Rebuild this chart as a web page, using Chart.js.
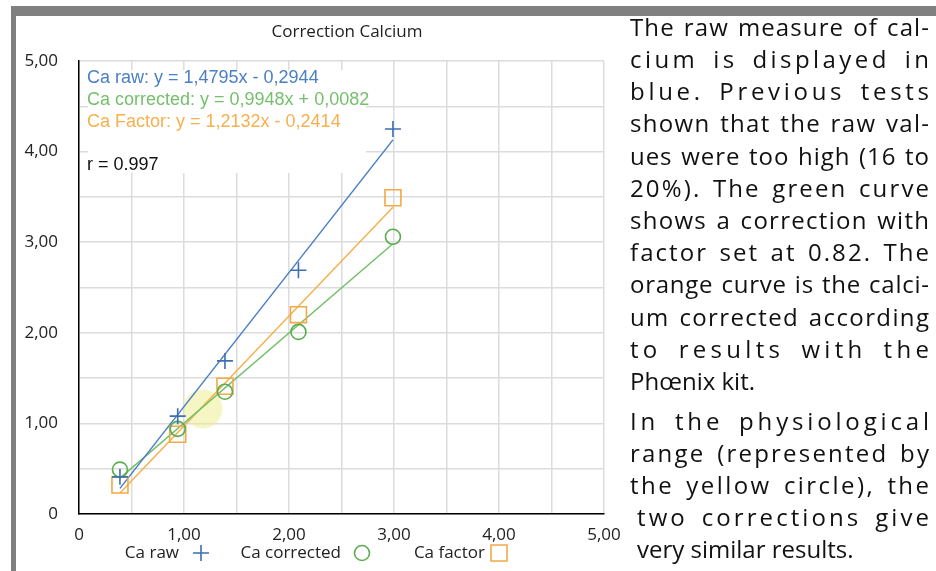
<!DOCTYPE html>
<html>
<head>
<meta charset="utf-8">
<script src="https://cdn.jsdelivr.net/npm/chart.js@4.4.1/dist/chart.umd.min.js"></script>
<style>
  html, body { margin: 0; padding: 0; background: #fff; width: 936px; height: 571px; overflow: hidden; }
  #wrap { position: relative; width: 936px; height: 571px; }
  #chartBox { position: absolute; left: 0; top: 0; width: 640px; height: 571px; }
  .bar { position: absolute; background: #808080; }
  .ln { position: absolute; font-family: "Open Sans", "Noto Sans", sans-serif; font-size: 24px; line-height: 32px; color: #111; white-space: pre; }
</style>
</head>
<body>
<div id="wrap">
  <div id="chartBox"><canvas id="c" width="640" height="571"></canvas></div>
  <div class="bar" style="left:11px;top:6px;width:925px;height:10px"></div>
  <div class="bar" style="left:11px;top:6px;width:5px;height:565px"></div>
  <div id="notes"></div>
</div>
<script>
// Measured calcium values (x = reference value)
const X_VALUES     = [0.39, 0.94, 1.39, 2.09, 2.99];
const CA_RAW       = [0.41, 1.08, 1.69, 2.69, 4.25];
const CA_CORRECTED = [0.49, 0.94, 1.35, 2.01, 3.06];
const CA_FACTOR    = [0.32, 0.88, 1.41, 2.20, 3.49];

// Linear regression of each series (as printed in the chart)
const SERIES_NAMES = ['Ca raw', 'Ca corrected', 'Ca factor'];
const SLOPES       = [1.4795, 0.9948, 1.2132];
const INTERCEPTS   = [-0.2944, 0.0082, -0.2414];
const EQUATION_LABELS = [
  'Ca raw: y = 1,4795x - 0,2944',
  'Ca corrected: y = 0,9948x + 0,0082',
  'Ca Factor: y = 1,2132x - 0,2414'
];
const R_LABEL = 'r = 0.997';

// Physiological range marker (centre)
const PHYSIO_CENTER = [1.18, 1.16];

const TICK_VALUES = [0, 1, 2, 3, 4, 5];
const TICK_LABELS = ['0', '1,00', '2,00', '3,00', '4,00', '5,00'];
const CHART_TITLE = 'Correction Calcium';

const NOTE_PARAGRAPHS = [
  ['The raw measure of cal-', 'cium is displayed in', 'blue. Previous tests',
   'shown that the raw val-', 'ues were too high (16 to', '20%). The green curve',
   'shows a correction with', 'factor set at 0.82. The', 'orange curve is the calci-',
   'um corrected according', 'to results with the', 'Phœnix kit.'],
  ['In the physiological', 'range (represented by', 'the yellow circle), the',
   'two corrections give', 'very similar results.']
];

const LINE_COLORS   = ['#4a7fc4', '#74c06b', '#f7b04e'];
const MARKER_COLORS = ['#3e6fae', '#5aad50', '#f3a945'];
const TICK_FONT = { family: '"Open Sans", "Noto Sans", sans-serif', size: 17 };

const toPoints = ys => X_VALUES.map((x, i) => ({ x, y: ys[i] }));
function trendPoints(k) {
  const x0 = Math.min(...X_VALUES), x1 = Math.max(...X_VALUES);
  return [x0, x1].map(x => ({ x, y: SLOPES[k] * x + INTERCEPTS[k] }));
}
function tickText(v) {
  const i = TICK_VALUES.indexOf(v);
  return i >= 0 ? TICK_LABELS[i] : '';
}

const markerSet = (k, style, radius, ys) => ({
  type: 'scatter', label: SERIES_NAMES[k], data: toPoints(ys),
  pointStyle: style, pointRadius: radius, pointBorderWidth: 1.6,
  borderColor: MARKER_COLORS[k], backgroundColor: 'rgba(0,0,0,0)', showLine: false
});
const trendSet = k => ({
  type: 'line', label: SERIES_NAMES[k] + ' trend', data: trendPoints(k),
  borderColor: LINE_COLORS[k], borderWidth: 1.5, pointRadius: 0, fill: false, tension: 0
});

// Overlay: equation box, title and legend
const overlay = {
  id: 'overlay',
  beforeDatasetsDraw(chart) {
    const c = chart.ctx, a = chart.chartArea;
    c.save();
    c.fillStyle = '#fff';
    c.fillRect(a.left + 9, a.top + 9, 278, 103);
    c.font = '18px "Liberation Sans", Arial, sans-serif';
    c.textBaseline = 'middle';
    c.textAlign = 'left';
    EQUATION_LABELS.forEach((t, i) => {
      c.fillStyle = LINE_COLORS[i];
      c.fillText(t, a.left + 8, a.top + 17 + i * 22);
    });
    c.fillStyle = '#111';
    c.fillText(R_LABEL, a.left + 8, a.top + 104);
    c.restore();
  },
  afterDraw(chart) {
    const c = chart.ctx;
    c.save();
    c.font = '17px "Open Sans", "Noto Sans", sans-serif';
    c.fillStyle = '#222';
    c.textAlign = 'center';
    c.textBaseline = 'middle';
    c.fillText(CHART_TITLE, 347, 32);

    // legend: label followed by its marker
    const textRight = [179, 341, 485];
    const markX = [201, 362, 499];
    const y = 553;
    c.textAlign = 'right';
    SERIES_NAMES.forEach((name, i) => {
      c.fillStyle = '#222';
      c.fillText(name, textRight[i], y);
      c.strokeStyle = MARKER_COLORS[i];
      c.lineWidth = 1.6;
      c.beginPath();
      if (i === 0) {
        c.moveTo(markX[i] - 8, y); c.lineTo(markX[i] + 8, y);
        c.moveTo(markX[i], y - 8); c.lineTo(markX[i], y + 8);
      } else if (i === 1) {
        c.arc(markX[i], y, 7.5, 0, Math.PI * 2);
      } else {
        c.rect(markX[i] - 8, y - 8, 16, 16);
      }
      c.stroke();
    });
    c.restore();
  }
};

new Chart(document.getElementById('c'), {
  data: {
    datasets: [
      markerSet(0, 'cross', 8, CA_RAW),
      markerSet(1, 'circle', 7.5, CA_CORRECTED),
      markerSet(2, 'rect', 11.3, CA_FACTOR),
      trendSet(0), trendSet(1), trendSet(2),
      {
        type: 'scatter', label: 'Physiological range',
        data: [{ x: PHYSIO_CENTER[0], y: PHYSIO_CENTER[1] }],
        pointRadius: 19.5, pointBorderWidth: 0,
        backgroundColor: 'rgba(238,238,140,0.5)', borderColor: 'rgba(0,0,0,0)'
      }
    ]
  },
  options: {
    responsive: false,
    animation: false,
    devicePixelRatio: 1,
    events: [],
    layout: { padding: { top: 61, right: 36, left: 0, bottom: 0 } },
    plugins: { legend: { display: false }, title: { display: false }, tooltip: { enabled: false } },
    scales: {
      x: {
        type: 'linear', min: 0, max: 5,
        ticks: { stepSize: 0.5, autoSkip: false, maxRotation: 0, padding: 11, color: '#222', font: TICK_FONT, callback: tickText },
        grid: { color: '#dcdcdc', lineWidth: 1.5, drawTicks: false },
        border: { color: '#000', width: 1.5 },
        afterFit: s => { s.height = 57; }
      },
      y: {
        type: 'linear', min: 0, max: 5,
        ticks: { stepSize: 0.5, autoSkip: false, padding: 21, color: '#222', font: TICK_FONT, callback: tickText },
        grid: { color: '#dcdcdc', lineWidth: 1.5, drawTicks: false },
        border: { color: '#000', width: 1.5 },
        afterFit: s => { s.width = 79; }
      }
    }
  },
  plugins: [overlay]
});

// Justified side notes: extra width shared between letters and word gaps
(function () {
  const notes = document.getElementById('notes');
  const RIGHT = 929;
  const WORD_WEIGHT = 1.5;
  const layout = [
    { left: 630, base: 36, step: 32.2, indent: [] },
    { left: 630, base: 430, step: 32, indent: [3, 4] }
  ];
  NOTE_PARAGRAPHS.forEach((lines, p) => {
    const L = layout[p];
    lines.forEach((text, i) => {
      const el = document.createElement('div');
      el.className = 'ln';
      el.textContent = text;
      const left = L.left + (L.indent.includes(i) ? 7 : 0);
      el.style.left = left + 'px';
      el.style.top = (L.base + i * L.step - 25.3) + 'px';
      notes.appendChild(el);
      if (i < lines.length - 1) {
        const natural = el.getBoundingClientRect().width;
        const n = [...text].length;
        const spaces = text.split(' ').length - 1;
        const ls = (RIGHT - left - natural) / ((n - 1) + WORD_WEIGHT * spaces);
        el.style.letterSpacing = ls + 'px';
        el.style.wordSpacing = (WORD_WEIGHT * ls) + 'px';
      }
    });
  });
})();
</script>
</body>
</html>
